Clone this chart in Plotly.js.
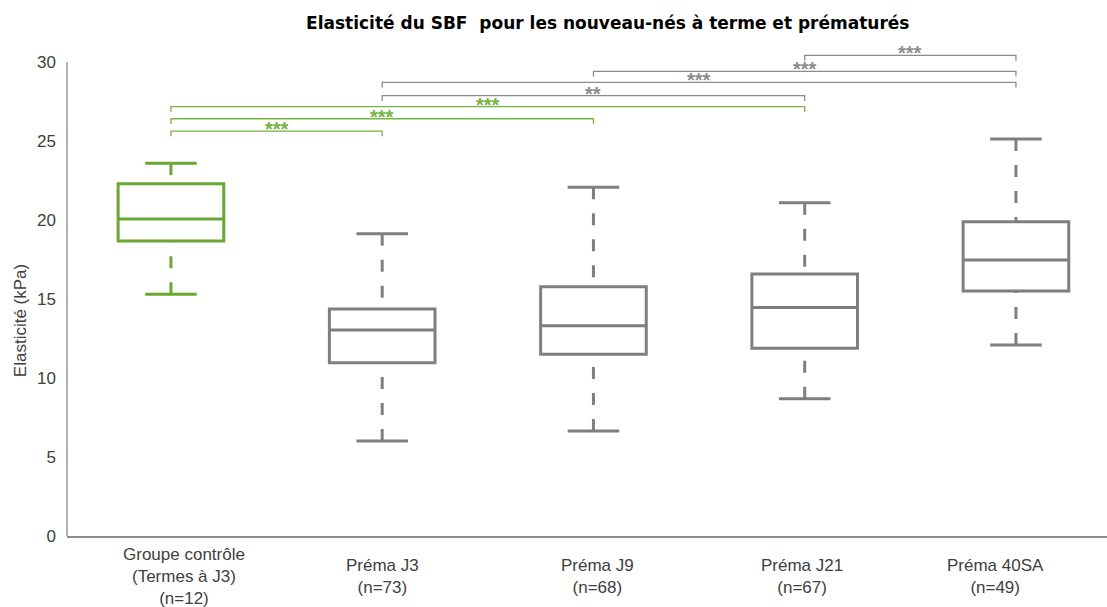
<!DOCTYPE html>
<html>
<head>
<meta charset="utf-8">
<script src="https://cdn.plot.ly/plotly-3.0.1.min.js"></script>
<style>
  html, body { margin: 0; padding: 0; background: #fff; }
  #plot { width: 1107px; height: 607px; }
</style>
</head>
<body>
<div id="plot"></div>
<script>
// Values (kPa).
const groups = ['Groupe contrôle<br>(Termes à J3)<br>(n=12)', 'Préma J3<br>(n=73)',
  'Préma J9<br>(n=68)', 'Préma J21<br>(n=67)', 'Préma 40SA<br>(n=49)'];
const lowerWhisker = [15.3, 6.01, 6.65, 8.69, 12.09];
const q1 = [18.67, 10.97, 11.5, 11.88, 15.51];
const median = [20.06, 13.04, 13.31, 14.47, 17.47];
const q3 = [22.3, 14.37, 15.78, 16.58, 19.89];
const upperWhisker = [23.6, 19.13, 22.07, 21.1, 25.13];

// Significance brackets: from group, to group, bracket height, label.
const bracketFrom = [0, 0, 0, 1, 1, 2, 3];
const bracketTo = [1, 2, 3, 3, 4, 4, 4];
const bracketY = [25.63, 26.41, 27.18, 27.87, 28.72, 29.41, 30.42];
const bracketStars = ['***', '***', '***', '**', '***', '***', '***'];

const green = '#6aa832';
const gray = '#7f7f7f';
const greenLight = '#74b33e';
const grayLight = '#8c8c8c';
const textFont = 'Liberation Sans, Arial, sans-serif';
// the category labels are not quite centred under their boxes in the original
const labelShift = [13, 0, 4, -3, -20];

function colorOf(i) { return i === 0 ? green : gray; }

const idx = groups.map((_, i) => i);
const traces = [];

// Boxes: the control group in green, the others in gray.
[[0], [1, 2, 3, 4]].forEach((set) => {
  traces.push({
    type: 'box',
    x: set,
    q1: set.map((i) => q1[i]),
    median: set.map((i) => median[i]),
    q3: set.map((i) => q3[i]),
    lowerfence: set.map((i) => q1[i]),
    upperfence: set.map((i) => q3[i]),
    width: 0.5,
    boxpoints: false,
    line: { color: colorOf(set[0]), width: 3 },
    fillcolor: 'rgba(255,255,255,0)',
    showlegend: false,
  });
});

// Dashed whiskers (drawn from the cap to the box) and solid caps.
idx.forEach((i) => {
  [[upperWhisker[i], q3[i]], [lowerWhisker[i], q1[i]]].forEach(([end, edge]) => {
    traces.push({
      type: 'scatter', mode: 'lines',
      x: [i, i], y: [end, edge],
      line: { color: colorOf(i), width: 3, dash: '12px,14px' },
      showlegend: false,
    });
    traces.push({
      type: 'scatter', mode: 'lines',
      x: [i - 0.122, i + 0.122], y: [end, end],
      line: { color: colorOf(i), width: 3 },
      showlegend: false,
    });
  });
});

const tick = 0.33;
const shapes = bracketY.map((y, k) => {
  const a = bracketFrom[k], b = bracketTo[k];
  return {
    type: 'path', xref: 'x', yref: 'y',
    path: `M ${a},${y - tick} L ${a},${y} L ${b},${y} L ${b},${y - tick}`,
    line: { color: a === 0 ? greenLight : grayLight, width: 1.3 },
  };
});
// y axis line only up to 30, like the original
shapes.push({
  type: 'line', xref: 'paper', yref: 'y', x0: 0, x1: 0, y0: 0, y1: 30,
  line: { color: '#8c8c8c', width: 1.3 },
});

const annotations = bracketY.map((y, k) => ({
  xref: 'x', yref: 'y',
  x: (bracketFrom[k] + bracketTo[k]) / 2, y: y,
  text: bracketStars[k], showarrow: false,
  yanchor: 'middle', yshift: 2,
  font: { family: textFont, size: 20, weight: 'bold',
    color: bracketFrom[k] === 0 ? greenLight : grayLight },
}));

groups.forEach((g, i) => {
  annotations.push({
    xref: 'x', yref: 'paper', x: i, y: -0.0825, xshift: labelShift[i],
    yanchor: 'middle', text: g, showarrow: false,
    font: { family: textFont, size: 17, color: '#404040' },
  });
});

annotations.push({
  xref: 'paper', yref: 'paper', x: -0.0452, y: 0.445,
  text: 'Elasticité (kPa)', textangle: -90, showarrow: false,
  xanchor: 'center', yanchor: 'middle',
  font: { family: textFont, size: 17, color: '#404040' },
});

const layout = {
  width: 1107, height: 607,
  margin: { l: 67, r: 0, t: 51, b: 71 },
  paper_bgcolor: '#ffffff', plot_bgcolor: '#ffffff',
  boxmode: 'overlay',
  hovermode: false,
  title: {
    text: 'Elasticité du SBF&nbsp; pour les nouveau-nés à terme et prématurés',
    x: 0.549, xanchor: 'center', y: 0.962, yanchor: 'middle',
    font: { family: 'DejaVu Sans, sans-serif', size: 17, weight: 'bold', color: '#000' },
  },
  xaxis: {
    range: [-0.492, 4.431],
    showgrid: false, zeroline: false, showticklabels: false, ticks: '',
    showline: true, linecolor: '#8c8c8c', linewidth: 1.5,
  },
  yaxis: {
    range: [0, 30.7],
    tickvals: [0, 5, 10, 15, 20, 25, 30],
    showgrid: false, zeroline: false, showline: false, ticks: '',
    ticklabelstandoff: 10,
    tickfont: { family: textFont, size: 17, color: '#404040' },
  },
  shapes: shapes,
  annotations: annotations,
};

Plotly.newPlot('plot', traces, layout, { displayModeBar: false, staticPlot: true });
</script>
</body>
</html>
